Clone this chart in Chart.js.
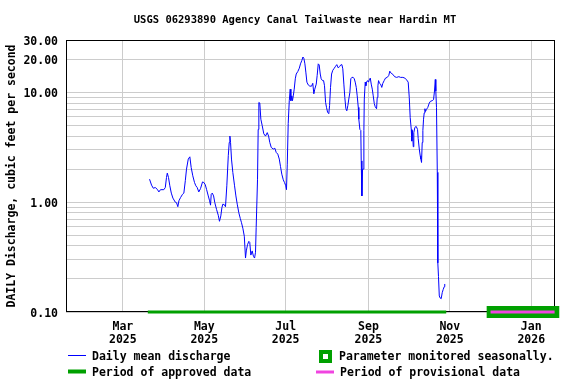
<!DOCTYPE html>
<html>
<head>
<meta charset="utf-8">
<script src="https://cdn.jsdelivr.net/npm/chart.js@4/dist/chart.umd.min.js"></script>
<style>
  body { margin: 0; background: #fff; }
  canvas { display: block; }
</style>
</head>
<body>
<canvas id="flowChart" width="576" height="384"></canvas>
<script>
// Daily mean discharge, x = day of year 2025 (Jan 1 = 0)
const flowDay = [
  79.0, 80.5, 81.8, 83.3, 84.8, 86.0, 87.2, 89.7, 90.8, 91.7, 92.3, 93.2, 94.2, 95.3, 96.5, 98.3,
  99.2, 100.2, 101.0, 102.2, 103.7, 104.7, 105.8, 106.7, 108.0, 109.2, 110.2, 111.4, 112.7, 113.7,
  114.7, 115.9, 117.2, 118.7, 119.7, 120.7, 121.7, 123.0, 124.0, 124.7, 125.2, 126.0, 127.0, 127.9,
  129.2, 130.5, 131.4, 132.4, 133.2, 133.9, 135.0, 135.9, 136.9, 138.0, 138.7, 139.2, 139.7, 140.4,
  141.4, 142.7, 143.7, 144.7, 145.9, 147.0, 147.9, 148.9, 150.0, 150.9, 151.5, 152.4, 153.4, 154.1,
  154.9, 155.9, 156.9, 157.7, 158.4, 158.9, 159.9, 160.4, 160.9, 161.6, 162.4, 163.4, 164.6, 165.9,
  167.2, 168.2, 169.1, 170.2, 171.7, 172.9, 173.9, 175.1, 176.2, 177.1, 178.1, 179.2, 180.1, 181.1,
  181.6, 182.2, 182.9, 183.7, 184.4, 184.9, 185.6, 186.1, 186.7, 187.4, 188.2, 188.9, 190.1, 191.2,
  192.1, 193.1, 193.9, 194.6, 195.4, 196.1, 196.9, 197.9, 199.1, 200.4, 201.3, 202.1, 202.8, 203.9,
  204.6, 205.4, 206.1, 206.9, 207.6, 208.6, 209.4, 210.1, 210.9, 211.6, 212.4, 213.3, 213.9, 214.6,
  215.4, 216.3, 217.4, 218.4, 219.3, 220.4, 221.4, 222.3, 223.1, 223.8, 224.6, 225.3, 226.1, 226.8,
  227.6, 228.3, 229.1, 229.8, 230.6, 231.6, 232.4, 233.1, 233.9, 234.6, 235.4, 235.8, 236.6, 237.3,
  237.6, 238.1, 238.6, 239.1, 239.6, 239.9, 240.6, 241.1, 241.6, 242.3, 243.1, 243.6, 244.4, 245.1,
  245.9, 246.6, 247.4, 248.1, 249.1, 249.6, 250.1, 250.6, 251.3, 252.1, 253.0, 253.8, 254.8, 255.8,
  257.1, 258.3, 259.0, 260.1, 261.3, 262.6, 264.1, 265.8, 267.1, 268.8, 270.3, 271.6, 272.8, 273.6,
  274.3, 275.1, 275.5, 276.0, 276.6, 277.0, 277.8, 278.8, 279.8, 280.3, 281.1, 281.8, 282.3, 282.8,
  283.3, 283.8, 284.3, 284.8, 285.3, 285.8, 286.5, 287.5, 288.6, 289.5, 290.8, 291.8, 292.5, 293.1,
  293.5, 294.0, 294.6, 295.0, 295.5, 296.1, 296.8, 297.5, 298.3, 299.0, 299.8, 300.2
];
const flowCfs = [
  1.62, 1.43, 1.34, 1.36, 1.31, 1.24, 1.30, 1.30, 1.36, 1.68, 1.84, 1.68, 1.41, 1.21, 1.09, 1.00,
  0.99, 0.91, 1.03, 1.10, 1.18, 1.21, 1.57, 2.00, 2.47, 2.59, 2.07, 1.74, 1.51, 1.41,
  1.36, 1.24, 1.33, 1.53, 1.51, 1.45, 1.31, 1.14, 1.03, 0.94, 1.18, 1.21, 1.14, 0.99,
  0.86, 0.76, 0.67, 0.75, 0.89, 0.96, 0.95, 0.91, 1.41, 2.65, 3.5, 4.0, 3.5, 2.47,
  1.87, 1.41, 1.14, 0.96, 0.80, 0.71, 0.65, 0.58, 0.49, 0.31, 0.36, 0.41, 0.44, 0.43,
  0.33, 0.36, 0.32, 0.31, 0.35, 0.59, 1.62, 4.6, 8.1, 8.0, 5.7, 5.0, 4.2, 4.0,
  4.3, 4.0, 3.5, 3.15, 3.05, 3.1, 2.84, 2.74, 2.47, 2.12, 1.80, 1.60, 1.51, 1.41,
  1.30, 2.22, 5.2, 8.4, 10.7, 8.4, 9.3, 8.4, 9.3, 10.7, 13.3, 14.7, 15.5, 16.6,
  18.2, 19.5, 21.0, 20.5, 18.2, 15.3, 12.4, 11.7, 11.4, 11.4, 12.1, 9.7, 10.7, 11.9,
  14.3, 18.2, 17.8, 14.7, 13.3, 12.8, 12.8, 11.5, 8.1, 7.3, 6.6, 6.4, 7.6, 11.1,
  14.7, 15.9, 16.6, 17.3, 17.9, 16.7, 17.2, 17.8, 17.9, 16.4, 11.9, 9.0, 7.1, 6.8,
  7.6, 8.7, 10.0, 13.3, 13.7, 13.7, 13.3, 12.4, 11.1, 9.3, 7.3, 5.7, 4.6, 4.5,
  2.38, 1.14, 2.0, 2.0, 4.5, 8.7, 12.4, 11.5, 12.4, 12.8, 12.4, 13.0, 13.5, 11.9,
  10.7, 9.3, 7.9, 7.4, 7.1, 9.0, 11.5, 12.8, 12.1, 11.9, 11.1, 12.1, 12.8, 13.5,
  13.7, 14.3, 15.6, 14.9, 14.6, 13.9, 13.7, 13.9, 13.7, 13.7, 13.5, 13.0, 12.4, 9.0,
  5.9, 4.6, 3.6, 4.5, 3.2, 4.3, 4.8, 4.9, 4.6, 3.8, 3.05, 2.65, 2.47, 2.3,
  3.5, 4.5, 5.7, 6.5, 7.1, 6.7, 7.0, 7.3, 8.0, 8.3, 8.4, 8.6, 10.3, 13.1,
  10.3, 7.3, 1.87, 0.28, 0.21, 0.14, 0.134, 0.132, 0.15, 0.16, 0.17, 0.18
];

// Periods shown along the bottom axis (start day, end day)
const approvedPeriod = [77.7, 301.3];
const seasonalPeriod = [331.6, 386.0];
const provisionalPeriod = [334.5, 382.5];

// Axis ticks
const monthTickDays = [59, 120, 181, 243, 304, 365];
const monthTickLabels = [
  ['Mar', '2025'], ['May', '2025'], ['Jul', '2025'],
  ['Sep', '2025'], ['Nov', '2025'], ['Jan', '2026']
];
const yTickValues = [0.1, 0.2, 0.3, 0.4, 0.5, 0.6, 0.7, 0.8, 0.9,
  1, 2, 3, 4, 5, 6, 7, 8, 9, 10, 20, 30];
const yLabeledValues = [0.1, 1, 10, 20, 30];

const TITLE = 'USGS 06293890 Agency Canal Tailwaste near Hardin MT';
const FONT = "'DejaVu Sans Mono', monospace";
const GREEN = '#00a000';
const MAGENTA = '#f044e0';
const BLUE = '#0000ff';
const GRID = '#cccccc';

function periodPoints(p) {
  return [{ x: p[0], y: 0.1 }, { x: p[1], y: 0.1 }];
}

// title, frame and hand-drawn legend
const usgsDecor = {
  id: 'usgsDecor',
  beforeDatasetsDraw(chart) {
    const { ctx, chartArea: a } = chart;
    ctx.save();
    ctx.strokeStyle = '#000';
    ctx.lineWidth = 1;
    ctx.strokeRect(Math.round(a.left) + 0.5, Math.round(a.top) + 0.5,
      Math.round(a.right - a.left) - 1, Math.round(a.bottom - a.top) - 1);
    ctx.restore();
  },
  afterDraw(chart) {
    const ctx = chart.ctx;
    ctx.save();
    ctx.fillStyle = '#000';
    ctx.textBaseline = 'middle';

    ctx.font = 'bold 10.5px ' + FONT;
    ctx.textAlign = 'center';
    ctx.fillText(TITLE, 295, 20);

    ctx.font = 'bold 11.5px ' + FONT;
    ctx.textAlign = 'left';

    // row 1
    ctx.strokeStyle = BLUE;
    ctx.lineWidth = 1;
    ctx.beginPath();
    ctx.moveTo(68, 355.5);
    ctx.lineTo(86, 355.5);
    ctx.stroke();
    ctx.fillText('Daily mean discharge', 92, 357);

    ctx.fillStyle = GREEN;
    ctx.fillRect(319, 350, 13, 13);
    ctx.fillStyle = '#fff';
    ctx.fillRect(323, 354, 5, 5);
    ctx.fillStyle = '#000';
    ctx.fillText('Parameter monitored seasonally.', 339, 357);

    // row 2
    ctx.strokeStyle = GREEN;
    ctx.lineWidth = 4;
    ctx.beginPath();
    ctx.moveTo(68, 371.5);
    ctx.lineTo(86, 371.5);
    ctx.stroke();
    ctx.fillText('Period of approved data', 92, 373);

    ctx.strokeStyle = MAGENTA;
    ctx.lineWidth = 3;
    ctx.beginPath();
    ctx.moveTo(316, 372);
    ctx.lineTo(334, 372);
    ctx.stroke();
    ctx.fillText('Period of provisional data', 340, 373);
    ctx.restore();
  }
};

const ctx = document.getElementById('flowChart').getContext('2d');
const flowChart = new Chart(ctx, {
  type: 'line',
  data: {
    datasets: [{
      label: 'Daily mean discharge',
      data: flowDay.map((d, i) => ({ x: d, y: flowCfs[i] })),
      borderColor: BLUE,
      borderWidth: 1,
      pointRadius: 0,
      tension: 0,
      order: 0
    }, {
      label: 'Period of provisional data',
      data: periodPoints(provisionalPeriod),
      borderColor: MAGENTA,
      borderWidth: 3,
      pointRadius: 0,
      clip: false,
      order: 1
    }, {
      label: 'Parameter monitored seasonally',
      data: periodPoints(seasonalPeriod),
      borderColor: GREEN,
      borderWidth: 12,
      pointRadius: 0,
      clip: false,
      order: 2
    }, {
      label: 'Period of approved data',
      data: periodPoints(approvedPeriod),
      borderColor: GREEN,
      borderWidth: 3,
      pointRadius: 0,
      clip: false,
      order: 3
    }]
  },
  options: {
    responsive: false,
    animation: false,
    layout: {
      padding: { left: 0, right: 21, top: 40, bottom: 0 }
    },
    plugins: {
      legend: { display: false },
      tooltip: { enabled: false },
      title: { display: false }
    },
    scales: {
      x: {
        type: 'linear',
        min: 16.4,
        max: 382.8,
        afterFit: (scale) => { scale.height = 72; },
        afterBuildTicks: (scale) => {
          scale.ticks = monthTickDays.map(v => ({ value: v }));
        },
        grid: { color: GRID, lineWidth: 1, drawTicks: false },
        border: { display: false },
        ticks: {
          autoSkip: false,
          maxRotation: 0,
          padding: 9,
          color: '#000',
          font: { family: FONT, size: 11.5, weight: 'bold', lineHeight: '13px' },
          callback: (value) => {
            const i = monthTickDays.indexOf(value);
            return i >= 0 ? monthTickLabels[i] : '';
          }
        }
      },
      y: {
        type: 'logarithmic',
        min: 0.1,
        max: 30,
        afterFit: (scale) => { scale.width = 66; },
        afterBuildTicks: (scale) => {
          scale.ticks = yTickValues.map(v => ({ value: v }));
        },
        grid: { color: GRID, lineWidth: 1, drawTicks: false },
        border: { display: false },
        title: {
          display: true,
          text: 'DAILY Discharge, cubic feet per second',
          color: '#000',
          font: { family: FONT, size: 11.5, weight: 'bold', lineHeight: '14px' },
          padding: { top: 5, bottom: 0 }
        },
        ticks: {
          autoSkip: false,
          padding: 8,
          color: '#000',
          // two-line label with an empty first line nudges the text ~2px down
          font: { family: FONT, size: 11.5, weight: 'bold', lineHeight: '4px' },
          callback: (value) => yLabeledValues.includes(value) ? ['', value.toFixed(2)] : ''
        }
      }
    }
  },
  plugins: [usgsDecor]
});
</script>
</body>
</html>
